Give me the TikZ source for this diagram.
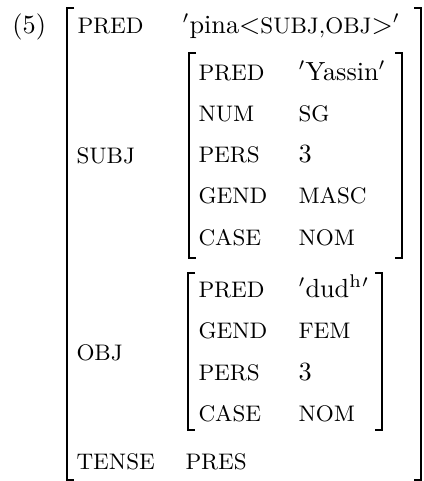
\documentclass[tikz,border=0pt]{standalone}
\begin{document}
\begin{tikzpicture}[x=0.4pt,y=-0.4pt]
% font sizes of the matrix
\def\fs{\fontsize{10.5pt}{12pt}\selectfont}
\def\fc{\fontsize{9pt}{10pt}\selectfont}
% node style definition
\tikzstyle{plain} = [draw=none, fill=none, inner sep=0pt, anchor=base west, font=\fs];
\tikzstyle{attr} = [plain, font=\fc];
\tikzstyle{brk} = [draw, line width=0.6pt];
% tick of a bracket
\def\tk{7}
\useasboundingbox (0,0) rectangle (424,481);
% outer matrix
\node[plain] (ex) at (12,33) {(5)};
\node[attr] (fpred) at (77,33) {PRED};
\node[plain] (fpina) at (182,33) {$'$pina$<${\fc SUBJ,OBJ}$>'$};
\node[attr] (fsubj) at (76,163) {SUBJ};
\node[attr] (fobj) at (76,360) {OBJ};
\node[attr] (ftense) at (76,469) {TENSE};
\node[attr] (fpres) at (185,469) {PRES};
\draw[brk] (67+\tk,8) -- (67,8) -- (67,480) -- (67+\tk,480);
\draw[brk] (421-\tk,8) -- (421,8) -- (421,480) -- (421-\tk,480);
% subject
\foreach \a/\v [count=\i] in {PRED/{$'$Yassin$'$}, NUM/{\fc SG},
	PERS/3, GEND/{\fc MASC}, CASE/{\fc NOM}}
{
	\node[attr] (sa\i) at (198,{80+41.25*(\i-1)}) {\a};
	\node[plain] (sv\i) at (298,{80+41.25*(\i-1)}) {\v};
}
\draw[brk] (189+\tk,53) -- (189,53) -- (189,258) -- (189+\tk,258);
\draw[brk] (402-\tk,53) -- (402,53) -- (402,258) -- (402-\tk,258);
% object
\foreach \a/\v [count=\i] in {PRED/{$'$dud\textsuperscript{h}$'$},
	GEND/{\fc FEM}, PERS/3, CASE/{\fc NOM}}
{
	\node[attr] (oa\i) at (198,{297+41.5*(\i-1)}) {\a};
	\node[plain] (ov\i) at (298,{297+41.5*(\i-1)}) {\v};
}
\draw[brk] (188+\tk,273) -- (188,273) -- (188,430) -- (188+\tk,430);
\draw[brk] (382-\tk,273) -- (382,273) -- (382,430) -- (382-\tk,430);
\end{tikzpicture}
\end{document}
